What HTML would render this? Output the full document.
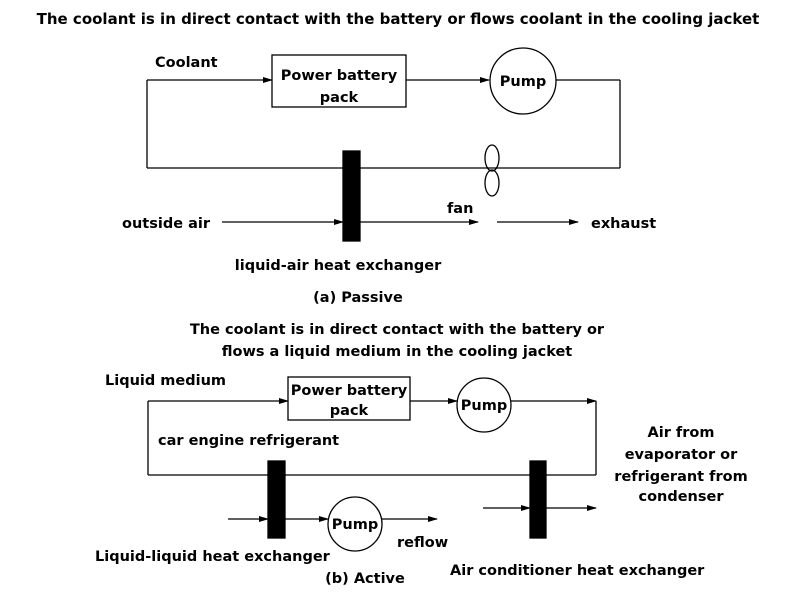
<!DOCTYPE html>
<html><head><meta charset="utf-8"><style>
html,body{margin:0;padding:0;background:#fff}
svg{display:block}
text{font-family:"DejaVu Sans","Liberation Sans",sans-serif;font-weight:bold;font-size:14.5px;fill:#000}
</style></head><body>
<svg width="800" height="600" viewBox="0 0 800 600" xmlns="http://www.w3.org/2000/svg">
<defs><marker id="a" markerWidth="10" markerHeight="8" refX="9" refY="4" orient="auto" markerUnits="userSpaceOnUse"><path d="M0,1 L10,4 L0,7 Z" fill="#000"/></marker></defs>
<g stroke="#000" stroke-width="1.3" fill="none">
<text x="398" y="24" text-anchor="middle" stroke="none" style="font-size:15px">The coolant is in direct contact with the battery or flows coolant in the cooling jacket</text>
<line x1="147" y1="80" x2="272" y2="80" marker-end="url(#a)"/>
<line x1="147" y1="80" x2="147" y2="168"/>
<line x1="147" y1="168" x2="343" y2="168"/>
<line x1="360" y1="168" x2="620" y2="168"/>
<line x1="620" y1="80" x2="620" y2="168"/>
<line x1="556" y1="80" x2="620" y2="80"/>
<rect x="272" y="55" width="134" height="52"/>
<line x1="406" y1="80" x2="489" y2="80" marker-end="url(#a)"/>
<circle cx="523" cy="81" r="33"/>
<ellipse cx="492" cy="158" rx="7" ry="13"/>
<ellipse cx="492" cy="183" rx="7" ry="13"/>
<rect x="343" y="151" width="17" height="90" fill="#000"/>
<line x1="222" y1="222" x2="343" y2="222" marker-end="url(#a)"/>
<line x1="360" y1="222" x2="478" y2="222" marker-end="url(#a)"/>
<line x1="497" y1="222" x2="578" y2="222" marker-end="url(#a)"/>
<line x1="148" y1="401" x2="288" y2="401" marker-end="url(#a)"/>
<line x1="148" y1="401" x2="148" y2="475"/>
<line x1="148" y1="475" x2="530" y2="475"/>
<line x1="546" y1="475" x2="596" y2="475"/>
<line x1="596" y1="401" x2="596" y2="475"/>
<line x1="511" y1="401" x2="596" y2="401" marker-end="url(#a)"/>
<rect x="288" y="377" width="122" height="43"/>
<line x1="410" y1="401" x2="457" y2="401" marker-end="url(#a)"/>
<circle cx="484" cy="405" r="27"/>
<rect x="268" y="461" width="17" height="77" fill="#000"/>
<rect x="530" y="461" width="16" height="77" fill="#000"/>
<circle cx="355" cy="524" r="27"/>
<line x1="228" y1="519" x2="268" y2="519" marker-end="url(#a)"/>
<line x1="285" y1="519" x2="328" y2="519" marker-end="url(#a)"/>
<line x1="382" y1="519" x2="437" y2="519" marker-end="url(#a)"/>
<line x1="483" y1="508" x2="530" y2="508" marker-end="url(#a)"/>
<line x1="546" y1="508" x2="596" y2="508" marker-end="url(#a)"/>
</g>
<text x="155" y="67">Coolant</text>
<text x="339" y="80" text-anchor="middle">Power battery</text>
<text x="339" y="102" text-anchor="middle">pack</text>
<text x="523" y="86" text-anchor="middle">Pump</text>
<text x="122" y="228">outside air</text>
<text x="447" y="213">fan</text>
<text x="591" y="228">exhaust</text>
<text x="338" y="270" text-anchor="middle">liquid-air heat exchanger</text>
<text x="358" y="302" text-anchor="middle">(a) Passive</text>
<text x="397" y="334" text-anchor="middle">The coolant is in direct contact with the battery or</text>
<text x="397" y="356" text-anchor="middle">flows a liquid medium in the cooling jacket</text>
<text x="105" y="385">Liquid medium</text>
<text x="349" y="395" text-anchor="middle">Power battery</text>
<text x="349" y="415" text-anchor="middle">pack</text>
<text x="484" y="410" text-anchor="middle">Pump</text>
<text x="158" y="445">car engine refrigerant</text>
<text x="355" y="529" text-anchor="middle">Pump</text>
<text x="681" y="437" text-anchor="middle">Air from</text>
<text x="681" y="459" text-anchor="middle">evaporator or</text>
<text x="681" y="481" text-anchor="middle">refrigerant from</text>
<text x="681" y="501" text-anchor="middle">condenser</text>
<text x="95" y="561">Liquid-liquid heat exchanger</text>
<text x="397" y="547">reflow</text>
<text x="365" y="583" text-anchor="middle">(b) Active</text>
<text x="450" y="575">Air conditioner heat exchanger</text>
</svg>
</body></html>
